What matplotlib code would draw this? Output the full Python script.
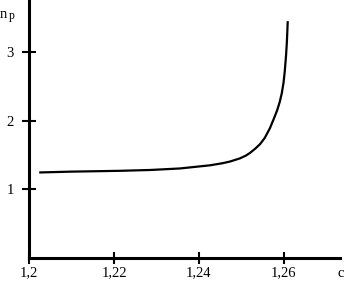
import matplotlib
matplotlib.use("Agg")
import matplotlib.pyplot as plt

c_vals = [1.2024, 1.21, 1.2214, 1.2285, 1.2355, 1.2426, 1.2455, 1.2473, 1.2496,
          1.2510, 1.252, 1.2532, 1.2544, 1.2555, 1.2567, 1.2577, 1.2584, 1.2590,
          1.2595, 1.2599, 1.2602, 1.2605, 1.2607, 1.2609]
np_vals = [1.246, 1.258, 1.270, 1.282, 1.304, 1.350, 1.380, 1.405, 1.450,
           1.490, 1.530, 1.590, 1.660, 1.750, 1.890, 2.040, 2.150, 2.270,
           2.400, 2.550, 2.720, 2.950, 3.150, 3.450]
x_ticks = [1.2, 1.22, 1.24, 1.26]
x_ticklabels = ["1,2", "1,22", "1,24", "1,26"]
y_ticks = [1, 2, 3]
y_ticklabels = ["1", "2", "3"]

fig = plt.figure(figsize=(3.51, 2.82), dpi=100)
ax = fig.add_axes([29/351, 24/282, 311/351, 258/282])
ax.plot(c_vals, np_vals, color="black", lw=1.6, solid_capstyle="butt",
        solid_joinstyle="round")
ax.set_xlim(1.2, 1.2732)
ax.set_ylim(0, 3.758)
for s in ["top", "right"]:
    ax.spines[s].set_visible(False)
for s in ["left", "bottom"]:
    ax.spines[s].set_linewidth(2.2)
ax.set_xticks(x_ticks)
ax.set_xticklabels(x_ticklabels)
ax.set_yticks(y_ticks)
ax.set_yticklabels(y_ticklabels)
font = dict(family="Liberation Serif", size=10.5)
for lab in ax.get_xticklabels() + ax.get_yticklabels():
    lab.set_fontfamily("Liberation Serif")
    lab.set_fontsize(10.5)
ax.tick_params(axis="y", direction="inout", length=9.5, width=1.5, pad=6)
ax.tick_params(axis="x", direction="inout", length=8, width=1.5, pad=2)
fig.text(341/351, 1 - 277/282, "c", ha="center", va="baseline", **font)
fig.text(0/351, 1 - 18/282, "n", ha="left", va="baseline", family="Liberation Serif", size=10.5)
fig.text(9/351, 1 - 19/282, "p", ha="left", va="baseline", family="Liberation Serif", size=8.5)
fig.savefig("out.png", dpi=100)
